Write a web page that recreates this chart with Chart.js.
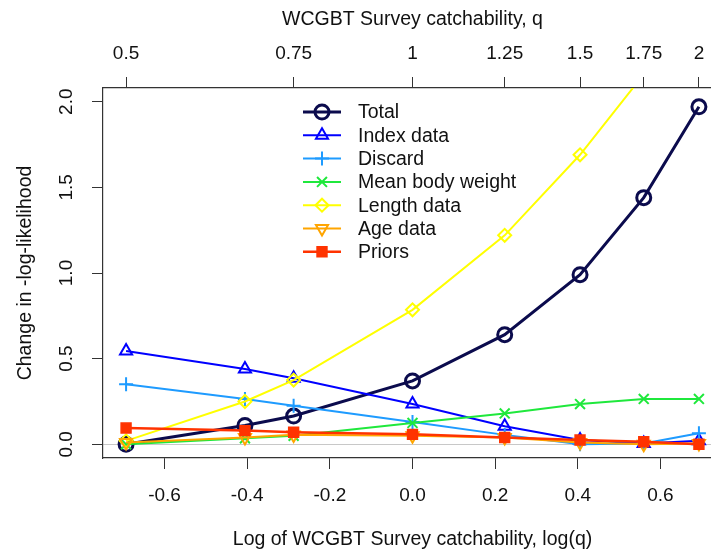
<!DOCTYPE html>
<html>
<head>
<meta charset="utf-8">
<script src="https://cdn.jsdelivr.net/npm/chart.js@4.4.1/dist/chart.umd.min.js"></script>
<style>
html,body{margin:0;padding:0;overflow:hidden;background:#fff}
#wrap{width:740px;height:556px}
</style>
</head>
<body>
<div id="wrap"><canvas id="chart"></canvas></div>
<script>
// catchability values at each profile point, plotted on log scale
const qValues=[0.5,2/3,0.75,1,1.25,1.5,1.75,2];
const topTicks=[0.5,0.75,1,1.25,1.5,1.75,2];
const topLabels=["0.5","0.75","1","1.25","1.5","1.75","2"];
const bottomTicks=[-0.6,-0.4,-0.2,0,0.2,0.4,0.6];
const yTicks=[0,0.5,1,1.5,2];
const seriesNames=["Total","Index data","Discard","Mean body weight","Length data","Age data","Priors"];
const total=[0,0.11,0.165,0.37,0.64,0.99,1.44,1.97];
const indexData=[0.545,0.44,0.385,0.235,0.105,0.025,0.005,0.02];
const discard=[0.35,0.265,0.225,0.13,0.055,0,0.005,0.065];
const meanBodyWeight=[0,0.035,0.05,0.125,0.18,0.235,0.265,0.265];
const lengthData=[0.02,0.25,0.375,0.785,1.22,1.69,2.16,2.7];
const ageData=[0.01,0.04,0.055,0.05,0.04,0.01,0,0.005];
const priors=[0.095,0.08,0.07,0.058,0.04,0.025,0.015,0];

const series=[total,indexData,discard,meanBodyWeight,lengthData,ageData,priors];
const colors=["#0b0b4d","#0000ff","#1e9bff","#1fe83c","#ffff00","#ffa500","#ff3300"];
const marks=[
  {style:"circle",r:7,lw:3,bw:3,fill:"transparent"},
  {style:"triangle",r:7,lw:2,bw:2,fill:"transparent"},
  {style:"cross",r:7,lw:2,bw:2,fill:"transparent"},
  {style:"crossRot",r:7,lw:2,bw:2,fill:"transparent"},
  {style:"rectRot",r:6.5,lw:2,bw:2,fill:"transparent"},
  {style:"triangle",r:7,lw:2,bw:2,fill:"transparent",rot:180},
  {style:"rect",r:7,lw:2.5,bw:1.5,fill:"#ff3300"}
];
const axisColor="#333";
const txt="#111";
const logQ=qValues.map(Math.log);

Chart.defaults.font.family="'Liberation Sans', Arial, sans-serif";

const legendPlugin={id:"rlegend",afterDraw(chart){
  const ctx=chart.ctx,a=chart.chartArea;
  ctx.save();
  ctx.font="19.5px 'Liberation Sans', Arial, sans-serif";
  ctx.textBaseline="middle";
  chart.data.datasets.forEach((d,i)=>{
    const y=a.top+24+i*23.3,x0=a.left+200;
    ctx.strokeStyle=d.borderColor;ctx.lineWidth=d.borderWidth;
    ctx.beginPath();ctx.moveTo(x0,y);ctx.lineTo(x0+38,y);ctx.stroke();
    ctx.fillStyle=d.pointBackgroundColor;ctx.lineWidth=d.pointBorderWidth;
    Chart.helpers.drawPoint(ctx,{pointStyle:d.pointStyle,rotation:d.pointRotation,radius:d.pointRadius,borderWidth:d.pointBorderWidth},x0+19,y);
    ctx.fillStyle=txt;
    ctx.fillText(d.label,x0+55,y+1);
  });
  ctx.restore();
}};

new Chart("chart",{type:"line",
  data:{datasets:series.map((s,i)=>({
    label:seriesNames[i],
    data:s.map((v,j)=>({x:logQ[j],y:v})),
    borderColor:colors[i],borderWidth:marks[i].lw,
    pointStyle:marks[i].style,pointRadius:marks[i].r,pointRotation:marks[i].rot||0,
    pointBorderColor:colors[i],pointBorderWidth:marks[i].bw,pointBackgroundColor:marks[i].fill,
    tension:0,order:series.length-i
  }))},
  options:{responsive:true,maintainAspectRatio:false,animation:false,
    layout:{padding:{left:0,right:18,top:0,bottom:0}},
    plugins:{legend:{display:false},tooltip:{enabled:false}},
    scales:{
      x:{type:"linear",position:"bottom",min:-0.749,max:0.749,
        afterBuildTicks:s=>{s.ticks=bottomTicks.map(v=>({value:v}))},
        afterFit:s=>{s.height=98},
        grid:{drawOnChartArea:false,tickLength:11,tickColor:axisColor},
        border:{color:axisColor,width:1.2},
        ticks:{padding:15.5,font:{size:19},color:txt,maxRotation:0,autoSkip:false,callback:v=>v.toFixed(1)},
        title:{display:true,text:"Log of WCGBT Survey catchability, log(q)",font:{size:19.5},color:txt,padding:{top:0,bottom:4.5}}},
      x2:{type:"linear",position:"top",min:-0.749,max:0.749,
        afterBuildTicks:s=>{s.ticks=topTicks.map(q=>({value:Math.log(q)}))},
        afterFit:s=>{s.height=88},
        grid:{drawOnChartArea:false,tickLength:11,tickColor:axisColor},
        border:{color:axisColor,width:1.2},
        ticks:{padding:11.5,font:{size:19},color:txt,maxRotation:0,autoSkip:false,callback:(v,i)=>topLabels[i]},
        title:{display:true,text:"WCGBT Survey catchability, q",font:{size:19.5},color:txt,padding:{top:8,bottom:0}}},
      y:{type:"linear",position:"left",min:-0.08,max:2.08,
        afterBuildTicks:s=>{s.ticks=yTicks.map(v=>({value:v}))},
        afterFit:s=>{s.width=103},
        grid:{color:c=>c.tick&&c.tick.value===0?"#c8c8c8":"transparent",tickLength:11,tickColor:axisColor},
        border:{color:axisColor,width:1.2},
        ticks:{minRotation:90,maxRotation:90,crossAlign:"center",padding:12,font:{size:19},color:txt,callback:v=>v.toFixed(1)},
        title:{display:true,text:"Change in -log-likelihood",font:{size:19.5},color:txt,padding:{top:13.5,bottom:0}}}
    }
  },
  plugins:[legendPlugin]
});
</script>
</body>
</html>
